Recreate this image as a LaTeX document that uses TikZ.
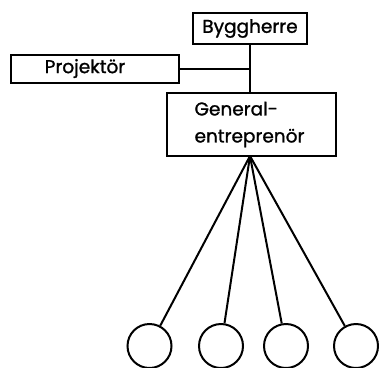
\documentclass[tikz,border=0pt]{standalone}
\usepackage{fontspec}
\setmainfont{Poppins}[FakeBold=1.2]
\begin{document}
\begin{tikzpicture}[x=1pt,y=-1pt,
  box/.style={draw,line width=2pt,inner sep=0pt,font=\fontsize{18.5}{27}\selectfont},
  ring/.style={draw,line width=2pt,circle,minimum size=44pt,inner sep=0pt},
  link/.style={line width=2pt}]
\useasboundingbox (0,0) rectangle (379,367);
\node[box,minimum width=114pt,minimum height=31pt] (bygg) at (250,28.5) {Byggherre};
\node[box,minimum width=168pt,minimum height=28pt] (proj) at (95,68.5) {\hspace*{-20pt}Projektör};
\node[box,minimum width=169pt,minimum height=63pt,align=left] (gen) at (251.5,124.5) {\hspace*{-4pt}General-\\\hspace*{-4pt}entreprenör};
\coordinate (hub) at (250,156);
\node[ring] (c1) at (149.5,346) {};
\node[ring] (c2) at (221,346) {};
\node[ring] (c3) at (286,346) {};
\node[ring] (c4) at (356,346) {};
\draw[link] (bygg.south -| hub) -- (gen.north -| hub);
\draw[link] (proj.east) -- (proj.east -| hub);
\foreach \c in {c1,c2,c3,c4} \draw[link] (hub) -- (\c);
\end{tikzpicture}
\end{document}
